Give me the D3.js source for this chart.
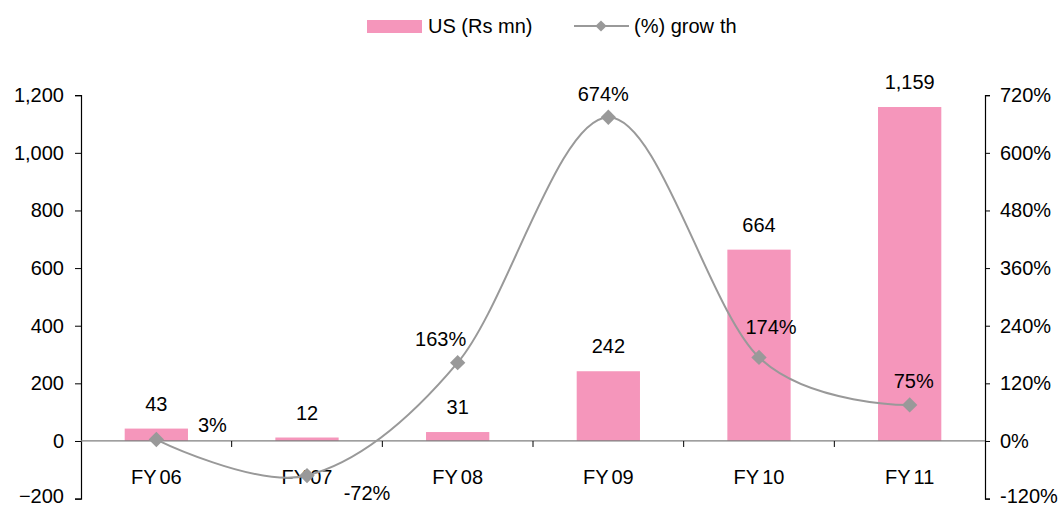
<!DOCTYPE html>
<html>
<head>
<meta charset="utf-8">
<script src="https://cdn.jsdelivr.net/npm/d3@7/dist/d3.min.js"></script>
<style>
  html, body { margin: 0; padding: 0; background: #fff; }
  text { font-family: "Liberation Sans", Arial, sans-serif; fill: #000; }
</style>
</head>
<body>
<svg id="chart" width="1064" height="506"></svg>
<script>
// Fiscal years
const categories = ["FY06", "FY07", "FY08", "FY09", "FY10", "FY11"];
// US revenue, Rs mn
const usRevenue = [43, 12, 31, 242, 664, 1159];
// Year-on-year growth, %
const growth = [3, -72, 163, 674, 174, 75];
// Axis ticks
const leftTicks = [-200, 0, 200, 400, 600, 800, 1000, 1200];
const rightTicks = [-120, 0, 120, 240, 360, 480, 600, 720];
// Legend entries
const legendLabels = ["US (Rs mn)", "(%) growth"];

const barColor = "#f596bb";
const lineColor = "#999999";
const fontSize = 20;

const svg = d3.select("#chart");
const plotLeft = 81, plotRight = 985, plotTop = 95.2, plotBottom = 498.6;

const x = d3.scaleBand().domain(categories).range([plotLeft, plotRight]).padding(0);
const yL = d3.scaleLinear().domain([-200, 1200]).range([plotBottom, plotTop]);
const yR = d3.scaleLinear().domain([-120, 720]).range([plotBottom, plotTop]);
const barW = x.bandwidth() * 0.42;
const cx = c => x(c) + x.bandwidth() / 2;

// Bars
svg.append("g").selectAll("rect").data(categories).join("rect")
  .attr("x", c => cx(c) - barW / 2)
  .attr("width", barW)
  .attr("y", (c, i) => yL(Math.max(0, usRevenue[i])))
  .attr("height", (c, i) => Math.abs(yL(usRevenue[i]) - yL(0)))
  .attr("fill", barColor);

// Left axis
const gL = svg.append("g").attr("transform", `translate(${plotLeft},0)`)
  .call(d3.axisLeft(yL).tickValues(leftTicks).tickSize(6).tickPadding(11)
    .tickFormat(d3.format(",")));
// Right axis
const gR = svg.append("g").attr("transform", `translate(${plotRight},0)`)
  .call(d3.axisRight(yR).tickValues(rightTicks).tickSize(5).tickPadding(10)
    .tickFormat(d => d + "%"));
[gL, gR].forEach(g => {
  g.select(".domain").attr("stroke", "#000").attr("stroke-width", 1.2);
  g.selectAll(".tick line").attr("stroke", "#000");
  g.selectAll(".tick text").style("font-size", fontSize + "px")
    .style("font-family", '"Liberation Sans", Arial, sans-serif');
  // lowest label sits against the bottom edge; nudge it up to stay visible
  g.selectAll(".tick text").filter((d, i) => i === 0).attr("dy", "0.18em");
});

// Category axis along zero
const y0 = yL(0);
const gX = svg.append("g");
gX.append("line").attr("x1", plotLeft).attr("x2", plotRight).attr("y1", y0).attr("y2", y0)
  .attr("stroke", "#7f7f7f").attr("stroke-width", 1.3);
gX.selectAll("line.tk").data(categories.slice(1)).join("line").attr("class", "tk")
  .attr("x1", c => x(c)).attr("x2", c => x(c)).attr("y1", y0).attr("y2", y0 + 6)
  .attr("stroke", "#000");
const catText = gX.selectAll("text").data(categories).join("text")
  .attr("x", cx).attr("y", 484).attr("text-anchor", "middle")
  .style("font-size", fontSize + "px");
catText.append("tspan").text(c => c.slice(0, 2));
catText.append("tspan").attr("dx", 3).text(c => c.slice(2));

// Growth line (smoothed)
const pts = categories.map((c, i) => [cx(c), yR(growth[i])]);
svg.append("path").datum(pts)
  .attr("d", d3.line().curve(d3.curveCatmullRom.alpha(0)))
  .attr("fill", "none").attr("stroke", lineColor).attr("stroke-width", 2);
const diamond = d3.symbol().type(d3.symbolDiamond2);
svg.append("g").selectAll("path").data(pts).join("path")
  .attr("transform", p => `translate(${p[0]},${p[1]})`)
  .attr("d", diamond.size(150)())
  .attr("fill", lineColor);

// Bar value labels
svg.append("g").selectAll("text").data(categories).join("text")
  .attr("x", cx).attr("y", (c, i) => yL(usRevenue[i]) - 18)
  .attr("text-anchor", "middle").style("font-size", fontSize + "px")
  .text((c, i) => d3.format(",")(usRevenue[i]));

// Growth value labels, offset from each marker
const growthLabelOffsets = [[56, -8], [60, 24], [-17, -17], [-5, -16], [12, -23], [4, -17]];
svg.append("g").selectAll("text").data(pts).join("text")
  .attr("x", (p, i) => p[0] + growthLabelOffsets[i][0])
  .attr("y", (p, i) => p[1] + growthLabelOffsets[i][1])
  .attr("text-anchor", "middle").style("font-size", fontSize + "px")
  .text((p, i) => growth[i] + "%");

// Legend
const lg = svg.append("g");
lg.append("rect").attr("x", 367).attr("y", 20).attr("width", 55).attr("height", 13).attr("fill", barColor);
lg.append("text").attr("x", 428).attr("y", 33).style("font-size", fontSize + "px").text(legendLabels[0]);
lg.append("line").attr("x1", 574).attr("x2", 629).attr("y1", 26).attr("y2", 26)
  .attr("stroke", lineColor).attr("stroke-width", 2);
lg.append("path").attr("transform", "translate(601,26)").attr("d", diamond.size(80)()).attr("fill", lineColor);
const lgText = lg.append("text").attr("x", 634).attr("y", 33).style("font-size", fontSize + "px");
lgText.append("tspan").text(legendLabels[1].slice(0, 8));
lgText.append("tspan").attr("dx", 6).text(legendLabels[1].slice(8));
</script>
</body>
</html>
